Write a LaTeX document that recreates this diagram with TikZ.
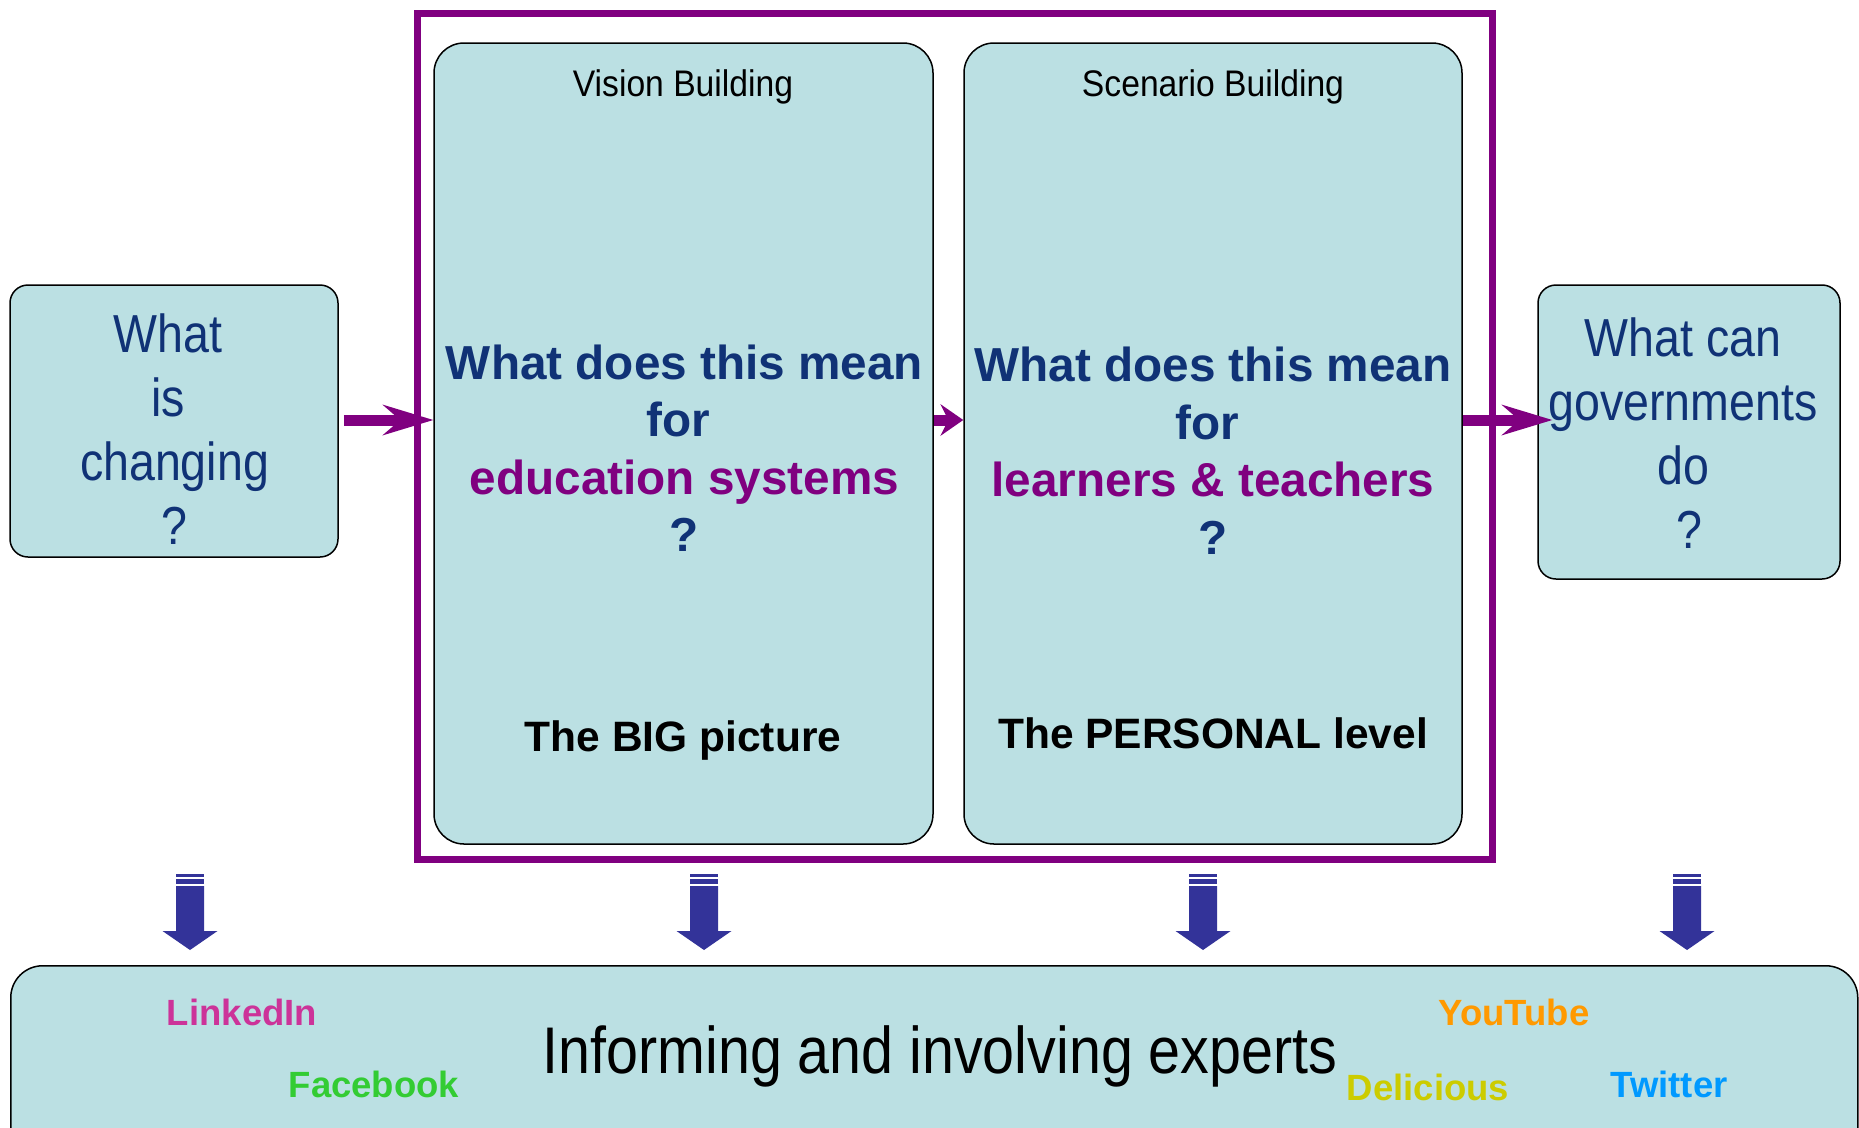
\documentclass[tikz,border=0pt]{standalone}
\usepackage{fontspec}
\setmainfont{Liberation Sans}
\newfontfamily\narrowfont[FakeStretch=0.87]{Liberation Sans}
\newfontfamily\headfont[FakeStretch=0.91]{Liberation Sans}
\usetikzlibrary{arrows.meta}
\definecolor{boxfill}{RGB}{187,224,227}
\definecolor{qblue}{RGB}{16,50,118}
\definecolor{framepurple}{RGB}{128,0,128}
\definecolor{dlblue}{RGB}{51,51,153}
\definecolor{clinked}{RGB}{204,51,153}
\definecolor{cface}{RGB}{51,204,51}
\definecolor{cyou}{RGB}{255,153,0}
\definecolor{cdel}{RGB}{204,204,0}
\definecolor{ctwit}{RGB}{0,153,255}
\begin{document}
\begin{tikzpicture}[x=1pt,y=-1pt,
  panel/.style={draw=black, line width=1.5pt, fill=boxfill, inner sep=0pt, rounded corners=#1},
  panel/.default=18pt,
  flow/.style={draw=framepurple, line width=11pt, -{Stealth[length=51pt,width=31pt,inset=18pt,line width=0pt]}},
  shortflow/.style={draw=framepurple, line width=11pt, -{Stealth[length=23pt,width=32pt,inset=8pt,line width=0pt]}},
  qtext/.style={text=qblue, align=center, inner sep=0pt, anchor=base, font=\fontsize{47.7}{57.5}\selectfont\bfseries},
  levtext/.style={text=black, inner sep=0pt, anchor=base, font=\fontsize{42.5}{50}\selectfont\bfseries},
  headtext/.style={text=black, inner sep=0pt, anchor=base, font=\headfont\fontsize{37}{44}\selectfont},
  sidetext/.style={text=qblue, align=center, inner sep=0pt, anchor=base, font=\narrowfont\fontsize{53.5}{64}\selectfont},
  social/.style={inner sep=0pt, anchor=base, font=\fontsize{36.5}{42}\selectfont\bfseries},
  downarrow/.pic={
    \fill[dlblue] (-14,0) rectangle (14,3);
    \fill[dlblue] (-14,5) rectangle (14,10);
    \fill[dlblue] (-14,12) -- (14,12) -- (14,57) -- (27.5,57) -- (0,76) -- (-27.5,57) -- (-14,57) -- cycle;
  }
]
\useasboundingbox (0,0) rectangle (1859,1127);

% purple frame
\node[draw=framepurple, line width=7pt, minimum width=1074.5pt, minimum height=846pt, inner sep=0pt] (frame) at (954.75,436.5) {};

% boxes
\node[panel=18pt, minimum width=328pt, minimum height=272pt] (changing) at (174,421) {};
\node[panel=30pt, minimum width=499pt, minimum height=801pt] (vision) at (683.5,443.5) {};
\node[panel=30pt, minimum width=498pt, minimum height=801pt] (scenario) at (1213,443.5) {};
\node[panel=18pt, minimum width=302pt, minimum height=294pt] (govern) at (1689,432) {};
\node[panel=32pt, minimum width=1847pt, minimum height=300pt, anchor=north west] (experts) at (10,965) {};

% connectors
\coordinate (row) at (0,420);
\coordinate (govin) at ([xshift=15pt]govern.west);
\draw[flow, shorten <=5pt] (changing.east |- row) -- (vision.west |- row);
\draw[shortflow] (vision.east |- row) -- (scenario.west |- row);
\draw[flow] (scenario.east |- row) -- (govin |- row);

% down block arrows
\pic at (190,874) {downarrow};
\pic at (704,874) {downarrow};
\pic at (1203,874) {downarrow};
\pic at (1687,874) {downarrow};

% texts
\node[headtext] (vhead) at (683,96.7) {Vision Building};
\node[headtext] (shead) at (1213,96.7) {Scenario Building};

\node[qtext] (vq) at (684.5,551.7) {What does this mean\\for\kern12pt\\\textcolor{framepurple}{education systems}\\?};
\node[qtext] (sq) at (1213,554) {What does this mean\\for\kern11pt\\\textcolor{framepurple}{learners \& teachers}\\?};

\node[levtext] (vlev) at (683,751.7) {The BIG picture};
\node[levtext] (slev) at (1213,748.3) {The PERSONAL level};

\node[sidetext] (ctext) at (174.5,544) {What\kern13pt\\is\kern13pt\\changing\\?};
\node[sidetext] (gtext) at (1689,548) {What can\kern12pt\\governments\kern12pt\\do\kern12pt\\?};

\node[inner sep=0pt, anchor=base, font=\narrowfont\fontsize{66}{76}\selectfont] (etext) at (940,1073) {Informing and involving experts};
\node[social, text=clinked] (linked) at (242,1025.7) {LinkedIn};
\node[social, text=cface] (face) at (374,1097.7) {Facebook};
\node[social, text=cyou] (you) at (1514,1025.7) {YouTube};
\node[social, text=cdel] (del) at (1428,1100.7) {Delicious};
\node[social, text=ctwit] (twit) at (1669,1097.7) {Twitter};
\end{tikzpicture}
\end{document}
